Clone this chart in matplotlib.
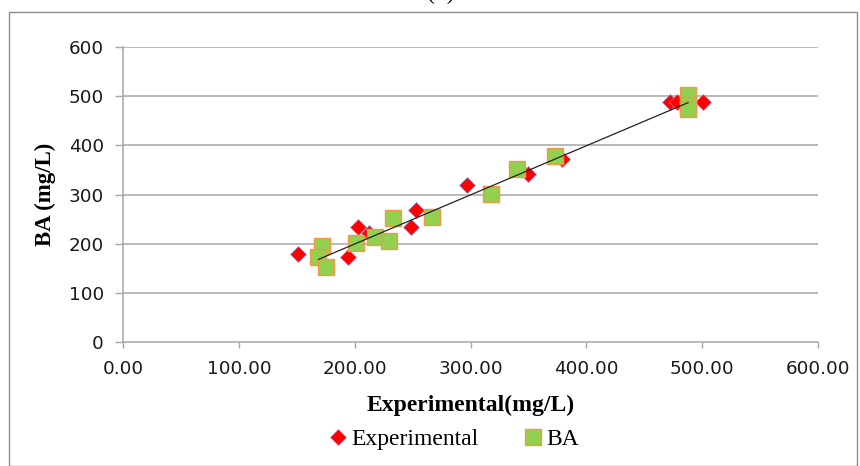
import matplotlib.pyplot as plt
from matplotlib.patches import Rectangle
import numpy as np

# experimental series (red diamonds)
exp_x = [151, 194, 203, 212, 249, 253, 297, 350, 379, 472, 478, 501]
exp_y = [178, 173, 233, 222, 234, 268, 319, 341, 372, 488, 488, 488]

# BA series (green squares)
ba_x = [171.5, 168.5, 175, 201, 217.5, 230, 233, 267, 317.5, 340, 373, 488, 488, 488]
ba_y = [195, 173, 153, 202, 214, 206, 253, 254, 301, 352, 379, 502, 483, 475]

# linear trend line drawn over the BA x range
trend_slope = 1.0
trend_intercept = -0.8

x_ticks = [0, 100, 200, 300, 400, 500, 600]
y_ticks = [0, 100, 200, 300, 400, 500, 600]

fig = plt.figure(figsize=(8.6, 4.66), dpi=100)
ax = fig.add_axes([0.1434, 0.2667, 0.8074, 0.6318])

grid_col = '#a6a6a6'
for yt in y_ticks[1:]:
    ax.axhline(yt, color=grid_col, lw=1.1, zorder=1)

ax.plot(exp_x, exp_y, ls='none', marker='D', ms=7.8, mfc='#ff0000',
        mec='#9a8cc8', mew=0.5, label='Experimental', zorder=3)
ax.plot(ba_x, ba_y, ls='none', marker='s', ms=11.6, mfc='#92d050',
        mec='#f79646', mew=1.0, label='BA', zorder=4)

tx = np.array([min(ba_x), max(ba_x)])
ax.plot(tx, trend_slope * tx + trend_intercept, color='#222222', lw=0.9, zorder=5)

ax.set_xlim(0, 600)
ax.set_ylim(0, 600)
ax.set_xticks(x_ticks)
ax.set_xticklabels(['%.2f' % v for v in x_ticks])
ax.set_yticks(y_ticks)
ax.set_yticklabels([str(v) for v in y_ticks])

for s in ['top', 'right']:
    ax.spines[s].set_visible(False)
for s in ['left', 'bottom']:
    ax.spines[s].set_color(grid_col)
    ax.spines[s].set_linewidth(1.1)

ax.tick_params(axis='x', direction='out', length=4, width=1, color=grid_col,
               pad=9, labelsize=13.2, labelcolor='#1a1a1a')
ax.tick_params(axis='y', direction='out', length=6, width=1, color=grid_col,
               pad=8, labelsize=13.2, labelcolor='#1a1a1a')

ax.set_xlabel('Experimental(mg/L)', family='Liberation Serif', weight='bold',
              fontsize=17)
ax.set_ylabel('BA (mg/L)', family='Liberation Serif', weight='bold',
              fontsize=16.5)
ax.xaxis.set_label_coords(0.5, -0.18)
ax.yaxis.set_label_coords(-0.097, 0.5)

fig.legend(loc='center', bbox_to_anchor=(455 / 860, 1 - 439 / 466), ncol=2,
           frameon=False, prop={'family': 'Liberation Serif', 'size': 17},
           handlelength=0.6, handletextpad=0.25, columnspacing=2.0,
           borderaxespad=0)

# outer frame and panel title (cut off at the top edge, as in the source)
fig.patches.append(Rectangle((9 / 860, 0), 848 / 860, 1 - 12 / 466,
                             transform=fig.transFigure, fill=False,
                             edgecolor='#8c8c8c', lw=1.0))
fig.text(441 / 860, 1 - 4 / 466, '(b)', family='Liberation Serif', fontsize=17,
         ha='center', va='bottom')

fig.savefig('out.png', dpi=100)
